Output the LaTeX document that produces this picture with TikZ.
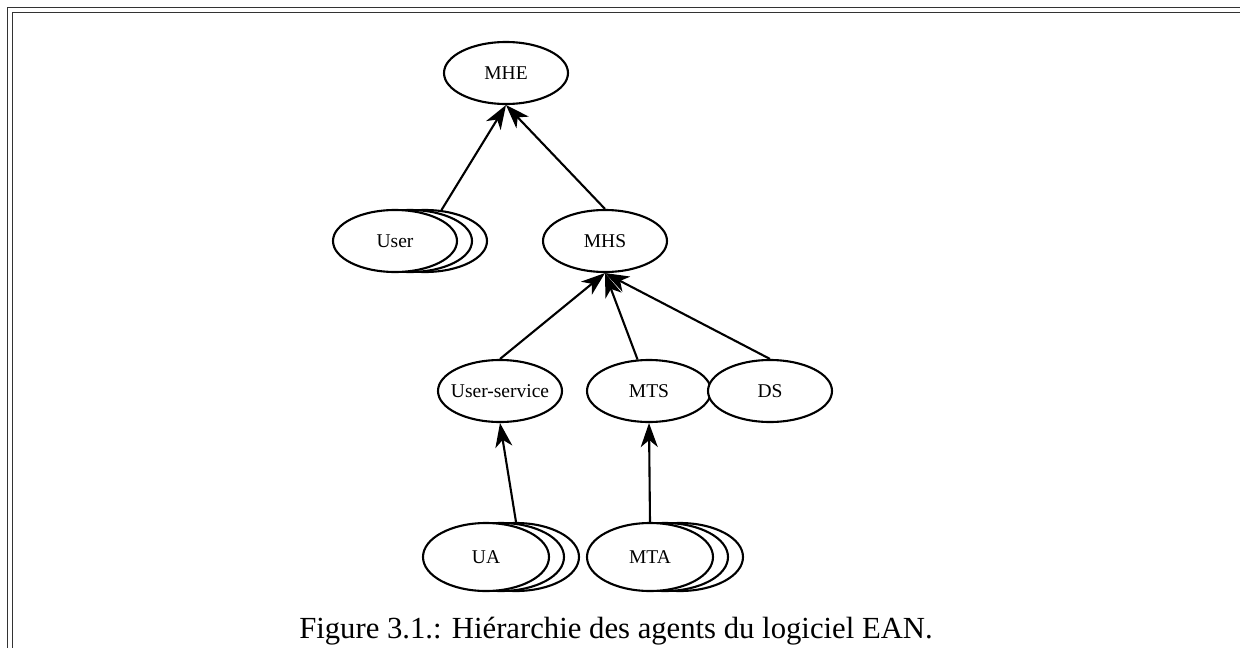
\documentclass[tikz,border=0pt]{standalone}
\usepackage{fontspec}
\setmainfont{Liberation Serif}
\usetikzlibrary{shapes.geometric,arrows.meta}
\begin{document}
\begin{tikzpicture}[x=1pt,y=-1pt,
  agent/.style={ellipse, draw, line width=2.1pt, fill=white,
    minimum width=124pt, minimum height=62pt, inner sep=0pt,
    font=\fontsize{19.5}{22}\selectfont},
  multi/.style={agent, minimum width=126pt, minimum height=68pt},
  link/.style={line width=2.1pt, -{Stealth[length=24pt,width=17pt,inset=7pt]}},
  frameline/.style={line width=1.8pt, draw=black!80}]
\useasboundingbox (0,0) rectangle (1240,648);

% double frame along the top and left edges
\draw[frameline] (7.5,648) -- (7.5,7.5) -- (1240,7.5);
\draw[frameline] (12.5,648) -- (12.5,12.5) -- (1240,12.5);

% single agents
\node[agent] (mhe) at (506,73) {MHE};
\node[agent] (mhs) at (605,241) {MHS};
\node[agent] (us)  at (500,391) {\makebox[60pt]{User-service}};
\node[agent] (mts) at (649,391) {MTS};
\node[agent] (ds)  at (770,391) {DS};

% stacked agents (several instances)
\node[agent] (user3) at (425,241) {};
\node[agent] (user2) at (410,241) {};
\node[agent] (user)  at (395,241) {User};

\node[multi] (ua3) at (516,557) {};
\node[multi] (ua2) at (501,557) {};
\node[multi] (ua)  at (486,557) {UA};

\node[multi] (mta3) at (680,557) {};
\node[multi] (mta2) at (665,557) {};
\node[multi] (mta)  at (650,557) {MTA};

% hierarchy links
\draw[link] (user3.62) -- (mhe.south);
\draw[link] (mhs.north) -- (mhe.south);
\draw[link] (us.north) -- (mhs.south);
\draw[link] (mts.110) -- (mhs.south);
\draw[link] (ds.north) -- (mhs.south);
\draw[link] (ua3.north) -- (us.south);
\draw[link] (mta.north) -- (mts.south);

% caption
\node[font=\fontsize{30.7}{34}\selectfont] (cap) at (616,631)
  {Figure 3.1.: Hiérarchie des agents du logiciel EAN.};
\end{tikzpicture}
\end{document}
